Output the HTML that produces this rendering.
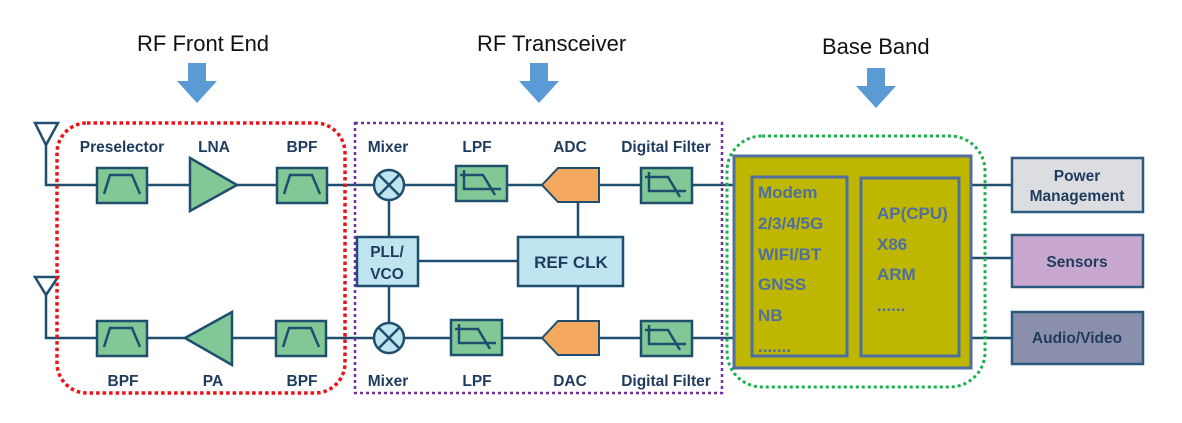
<!DOCTYPE html>
<html><head><meta charset="utf-8"><style>
html,body{margin:0;padding:0;background:#fff;}
svg{display:block;}
.h{font-family:"Liberation Sans",sans-serif;font-size:22px;fill:#111;}
.l{font-family:"Liberation Sans",sans-serif;font-size:15.5px;font-weight:bold;fill:#1f3b5e;}
.m{font-family:"Liberation Sans",sans-serif;font-size:17px;font-weight:bold;fill:#4d6fa3;}
.b{font-family:"Liberation Sans",sans-serif;font-size:15.5px;font-weight:bold;fill:#1f3b5e;}
</style></head><body>
<svg width="1182" height="423" viewBox="0 0 1182 423" xmlns="http://www.w3.org/2000/svg">
<defs>
<g id="bpf"><rect x="0" y="0" width="50" height="35" fill="#82c896" stroke="#1f4e6e" stroke-width="2.5"/><polyline points="7,26 13,7 35,7 43,26" fill="none" stroke="#1f4e6e" stroke-width="2.5"/></g>
<g id="lpf"><rect x="0" y="0" width="51" height="35" fill="#82c896" stroke="#1f4e6e" stroke-width="2.5"/><polyline points="4,9 27,9 39,29" fill="none" stroke="#1f4e6e" stroke-width="2.5"/><polyline points="8,4 8,23 45,23" fill="none" stroke="#1f4e6e" stroke-width="2.5"/></g>
<g id="mix"><circle cx="0" cy="0" r="15" fill="#bfe6f0" stroke="#1f4e6e" stroke-width="2.5"/><path d="M-10.6,-10.6L10.6,10.6M10.6,-10.6L-10.6,10.6" stroke="#1f4e6e" stroke-width="2.5"/></g>
<g id="arr"><polygon points="-9,0 9,0 9,18 20,18 0,40 -20,18 -9,18" fill="#5b9bd5"/></g>
</defs>
<text class="h" x="137" y="51">RF Front End</text>
<text class="h" x="477" y="51">RF Transceiver</text>
<text class="h" x="822" y="54">Base Band</text>
<use href="#arr" x="197" y="63"/>
<use href="#arr" x="539" y="63"/>
<use href="#arr" x="876" y="68"/>

<g stroke="#1f4e6e" stroke-width="2.5" fill="none">
<path d="M46,145V185H734M46,295V338H734"/>
<path d="M35,123H58L46,145Z M35,277H58L46,295Z"/>
<path d="M389,199V237M389,286V323M418,261H518M578,202V237M578,286V320"/>
<path d="M971,185H1012M971,258H1012M971,338H1012"/>
</g>
<use href="#bpf" x="97" y="168"/>
<polygon points="190,158 237,185 190,211" fill="#82c896" stroke="#1f4e6e" stroke-width="2.5"/>
<use href="#bpf" x="277" y="168"/>
<use href="#bpf" x="97" y="321"/>
<polygon points="185,338 232,312 232,365" fill="#82c896" stroke="#1f4e6e" stroke-width="2.5"/>
<use href="#bpf" x="276" y="321"/>

<use href="#mix" x="389" y="185"/>
<use href="#mix" x="389" y="338"/>
<use href="#lpf" x="456" y="166"/>
<use href="#lpf" x="451" y="320"/>
<polygon points="542,185 558,168 599,168 599,202 558,202" fill="#f5a860" stroke="#1f4e6e" stroke-width="2"/>
<polygon points="542,338 558,321 599,321 599,355 558,355" fill="#f5a860" stroke="#1f4e6e" stroke-width="2"/>
<use href="#lpf" x="641" y="168"/>
<use href="#lpf" x="641" y="321"/>
<rect x="357" y="237" width="61" height="49" fill="#bfe6f0" stroke="#1f4e6e" stroke-width="2.5"/>
<rect x="518" y="237" width="105" height="49" fill="#bfe6f0" stroke="#1f4e6e" stroke-width="2.5"/>
<text class="b" x="387" y="257" text-anchor="middle">PLL/</text>
<text class="b" x="387" y="279" text-anchor="middle">VCO</text>
<text class="b" x="571" y="268" text-anchor="middle" style="font-size:17px">REF CLK</text>

<rect x="734" y="156" width="237" height="212" fill="#bfb600" stroke="#4f6fa0" stroke-width="3"/>
<rect x="752" y="177" width="95" height="179" fill="none" stroke="#4f6fa0" stroke-width="3"/>
<rect x="861" y="178" width="98" height="178" fill="none" stroke="#4f6fa0" stroke-width="3"/>
<text class="m" x="758" y="198">Modem</text>
<text class="m" x="758" y="229">2/3/4/5G</text>
<text class="m" x="758" y="260">WIFI/BT</text>
<text class="m" x="758" y="290">GNSS</text>
<text class="m" x="758" y="321">NB</text>
<text class="m" x="758" y="352">.......</text>
<text class="m" x="877" y="219">AP(CPU)</text>
<text class="m" x="877" y="250">X86</text>
<text class="m" x="877" y="280">ARM</text>
<text class="m" x="877" y="311">......</text>

<rect x="1012" y="158" width="131" height="54" fill="#dcdde0" stroke="#2f5a80" stroke-width="2.5"/>
<rect x="1012" y="235" width="131" height="52" fill="#c8a8cf" stroke="#2f5a80" stroke-width="2.5"/>
<rect x="1012" y="312" width="131" height="52" fill="#8a90ac" stroke="#2f5a80" stroke-width="2.5"/>
<text class="b" x="1077" y="181" text-anchor="middle">Power</text>
<text class="b" x="1077" y="201" text-anchor="middle">Management</text>
<text class="b" x="1077" y="267" text-anchor="middle">Sensors</text>
<text class="b" x="1077" y="343" text-anchor="middle">Audio/Video</text>

<text class="l" x="122" y="152" text-anchor="middle">Preselector</text>
<text class="l" x="214" y="152" text-anchor="middle">LNA</text>
<text class="l" x="302" y="152" text-anchor="middle">BPF</text>
<text class="l" x="123" y="386" text-anchor="middle">BPF</text>
<text class="l" x="213" y="386" text-anchor="middle">PA</text>
<text class="l" x="302" y="386" text-anchor="middle">BPF</text>
<text class="l" x="388" y="152" text-anchor="middle">Mixer</text>
<text class="l" x="477" y="152" text-anchor="middle">LPF</text>
<text class="l" x="570" y="152" text-anchor="middle">ADC</text>
<text class="l" x="666" y="152" text-anchor="middle">Digital Filter</text>
<text class="l" x="388" y="386" text-anchor="middle">Mixer</text>
<text class="l" x="477" y="386" text-anchor="middle">LPF</text>
<text class="l" x="570" y="386" text-anchor="middle">DAC</text>
<text class="l" x="666" y="386" text-anchor="middle">Digital Filter</text>

<rect x="57" y="123" width="288" height="270" rx="30" fill="none" stroke="#e8141a" stroke-width="3.5" stroke-dasharray="3.5,3"/>
<rect x="355" y="123" width="367" height="270" fill="none" stroke="#7030a0" stroke-width="2.5" stroke-dasharray="3,3"/>
<rect x="727" y="136" width="258" height="251" rx="35" fill="none" stroke="#1ab04c" stroke-width="3" stroke-dasharray="3,3"/>
</svg>
</body></html>
